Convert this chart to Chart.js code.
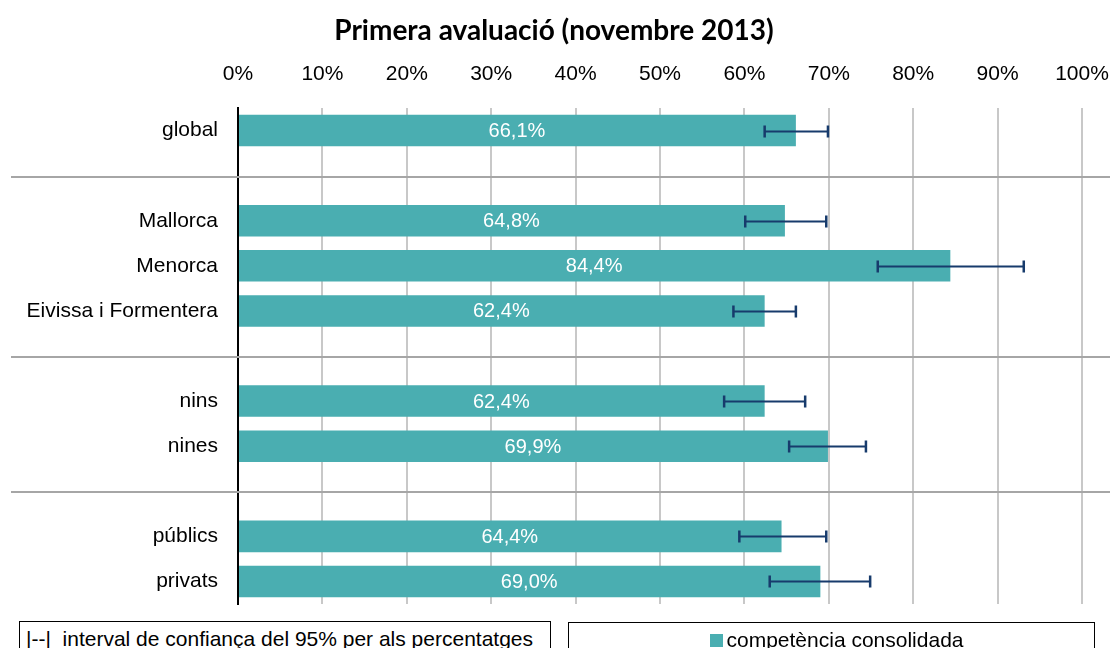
<!DOCTYPE html>
<html>
<head>
<meta charset="utf-8">
<script src="https://cdn.jsdelivr.net/npm/chart.js@4"></script>
<style>
  html, body { margin: 0; padding: 0; background: #fff; overflow: hidden; }
  #wrap { position: relative; width: 1113px; height: 648px; }
  #title {
    position: absolute; left: 254px; width: 600px; top: 12px; text-align: center;
    font: bold 28px Lato, sans-serif; color: #000; line-height: 34px; white-space: nowrap;
  }
  .legend {
    position: absolute; box-sizing: border-box; height: 44px;
    border: 1.5px solid #000; background: #fff;
    font: 21px "Liberation Sans", Arial, sans-serif; color: #000;
    line-height: 25px; padding-top: 4px; white-space: nowrap; overflow: hidden;
  }
  #legCi { left: 19px; top: 621px; width: 532px; padding-left: 6px; }
  #legBar { left: 568px; top: 622px; width: 527px; text-align: center; padding-left: 10px; }
  .swatch { display: inline-block; width: 13px; height: 13px; background: #4aaeb1; margin-right: 4px; }
</style>
</head>
<body>
<div id="wrap">
  <canvas id="chart"></canvas>
  <div id="title">Primera avaluació (novembre 2013)</div>
  <div class="legend" id="legCi">|--|&nbsp; interval de confiança del 95% per als percentatges</div>
  <div class="legend" id="legBar"><span class="swatch"></span>competència consolidada</div>
</div>
<script>
// empty strings are the spacer rows where the group separators go
const categories = ['global', '', 'Mallorca', 'Menorca', 'Eivissa i Formentera', '', 'nins', 'nines', '', 'públics', 'privats'];
const values = [66.1, null, 64.8, 84.4, 62.4, null, 62.4, 69.9, null, 64.4, 69.0];
const ciLow = [62.4, null, 60.1, 75.8, 58.7, null, 57.6, 65.3, null, 59.4, 63.0];
const ciHigh = [69.9, null, 69.7, 93.1, 66.1, null, 67.2, 74.4, null, 69.7, 74.9];
const xTicks = [0, 10, 20, 30, 40, 50, 60, 70, 80, 90, 100];

const barColor = '#4aaeb1';
const ciColor = '#173b6c';

Chart.defaults.font.family = '"Liberation Sans", Arial, sans-serif';
Chart.defaults.color = '#000';

const extras = {
  id: 'extras',
  afterDatasetsDraw(chart) {
    const c = chart.ctx;
    const xs = chart.scales.x;
    const ys = chart.scales.y;
    c.save();

    // group separators
    c.strokeStyle = '#a6a6a6';
    c.lineWidth = 2;
    categories.forEach((cat, i) => {
      if (cat !== '') return;
      const y = Math.round(ys.getPixelForValue(i)) + 1;
      c.beginPath();
      c.moveTo(11, y);
      c.lineTo(1110, y);
      c.stroke();
    });

    // value labels inside the bars
    c.fillStyle = '#fff';
    c.font = '20px "Liberation Sans", Arial, sans-serif';
    c.textAlign = 'center';
    c.textBaseline = 'middle';
    chart.getDatasetMeta(0).data.forEach((bar, i) => {
      if (values[i] == null) return;
      const cx = (xs.getPixelForValue(0) + bar.x) / 2;
      c.fillText(values[i].toFixed(1).replace('.', ',') + '%', cx, bar.y + 1);
    });

    // 95% confidence intervals
    c.strokeStyle = ciColor;
    categories.forEach((cat, i) => {
      if (ciLow[i] == null) return;
      const y = Math.round(ys.getPixelForValue(i)) + 0.5;
      const x1 = xs.getPixelForValue(ciLow[i]);
      const x2 = xs.getPixelForValue(ciHigh[i]);
      c.lineWidth = 2;
      c.beginPath();
      c.moveTo(x1, y);
      c.lineTo(x2, y);
      c.stroke();
      c.lineWidth = 2.5;
      c.beginPath();
      c.moveTo(x1, y - 6);
      c.lineTo(x1, y + 6);
      c.moveTo(x2, y - 6);
      c.lineTo(x2, y + 6);
      c.stroke();
    });
    c.restore();
  }
};

new Chart(document.getElementById('chart'), {
  type: 'bar',
  data: {
    labels: categories,
    datasets: [{
      label: 'competència consolidada',
      data: values,
      backgroundColor: barColor,
      barPercentage: 0.7,
      categoryPercentage: 1
    }]
  },
  options: {
    indexAxis: 'y',
    responsive: true,
    maintainAspectRatio: false,
    animation: false,
    layout: { padding: { left: 0, right: 31, top: 0, bottom: 44 } },
    plugins: {
      legend: { display: false },
      tooltip: { enabled: false },
      title: { display: false }
    },
    scales: {
      x: {
        position: 'top',
        min: 0,
        max: 100,
        afterBuildTicks: (s) => { s.ticks = xTicks.map(v => ({ value: v })); },
        afterFit: (s) => { s.height = 108; s.paddingLeft = 0; s.paddingRight = 0; },
        ticks: {
          font: { size: 21 },
          color: '#000',
          padding: 21,
          callback: (v) => v + '%'
        },
        grid: { color: '#c8c8c8', lineWidth: 2, drawTicks: false },
        border: { display: false }
      },
      y: {
        afterFit: (s) => { s.width = 238; },
        ticks: { font: { size: 21 }, color: '#000', padding: 12 },
        grid: { display: false },
        border: { display: true, color: '#000', width: 2 }
      }
    }
  },
  plugins: [extras]
});
</script>
</body>
</html>
